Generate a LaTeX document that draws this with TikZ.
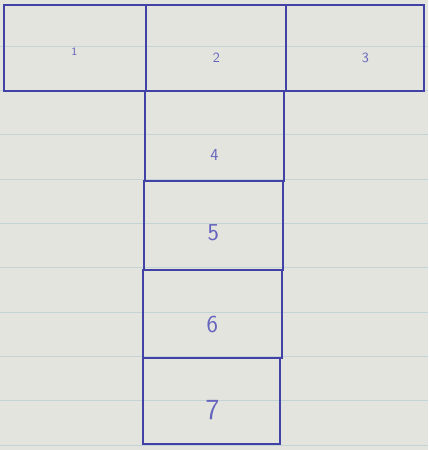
\documentclass[tikz,border=0pt]{standalone}
\definecolor{paper}{RGB}{228, 228, 222}
\definecolor{ruleblue}{RGB}{196, 212, 214}
\definecolor{penblue}{RGB}{66, 66, 166}
\definecolor{inkblue}{RGB}{100, 100, 190}
\usepackage{tikz}
\usetikzlibrary{positioning}
\tikzset{
    cell/.style={draw=penblue, rectangle, line width=1.4pt, inner sep=0pt},
    topcell/.style={cell, minimum height=86*0.025cm},
    colcell/.style={cell, minimum width=139*0.025cm},
    numlabel/.style={font=\sffamily, text=inkblue, inner sep=0pt},
    ruled/.style={draw=ruleblue, line width=0.6pt},
}

\begin{document}
\begin{tikzpicture}[x=0.025cm, y=-0.025cm]
                    % Paper
                    \fill[paper] (0, 0) rectangle (428, 450);
                    \foreach \ry in {46, 90, 134, 179, 223, 267, 312, 356, 400, 445}
                        \draw[ruled] (0, \ry) -- (428, \ry);
                    
                    % Top row
                    \node[topcell, minimum width=142*0.025cm] (c1) at (75, 48) {};
                    \node[topcell, minimum width=140*0.025cm] (c2) at (216, 48) {};
                    \node[topcell, minimum width=138*0.025cm] (c3) at (355, 48) {};
                    
                    % Column
                    \node[colcell, minimum height=90*0.025cm] (c4) at (214, 136) {};
                    \node[colcell, minimum height=89*0.025cm] (c5) at (213.5, 225.5) {};
                    \node[colcell, minimum height=88*0.025cm] (c6) at (212.5, 314) {};
                    \node[colcell, minimum width=137*0.025cm, minimum height=86*0.025cm] (c7) at (211.5, 401) {};
                    
                    % Numbers
                    \node[numlabel, font=\sffamily\footnotesize] (n1) at (74, 52) {1};
                    \node[numlabel] (n2) at (216, 58) {2};
                    \node[numlabel] (n3) at (365, 58) {3};
                    \node[numlabel, font=\sffamily\large] (n4) at (214, 155) {4};
                    \node[numlabel, font=\sffamily\LARGE] (n5) at (213, 233) {5};
                    \node[numlabel, font=\sffamily\LARGE] (n6) at (212, 325) {6};
                    \node[numlabel, font=\sffamily\huge] (n7) at (212, 410) {7};
                \end{tikzpicture}
\end{document}
